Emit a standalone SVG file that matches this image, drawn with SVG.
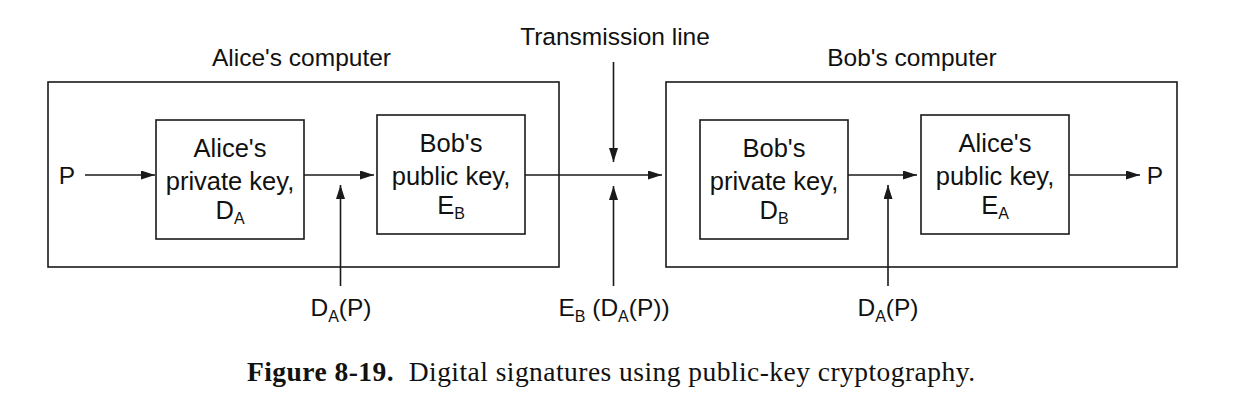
<svg xmlns="http://www.w3.org/2000/svg" width="1244" height="404" viewBox="0 0 1244 404">
<defs>
<marker id="ah" markerUnits="userSpaceOnUse" markerWidth="15" markerHeight="10" refX="14" refY="4.5" orient="auto">
<path d="M0,0 L14,4.5 L0,9 z" fill="#1a1a1a"/>
</marker>
<style>
.box{fill:none;stroke:#1a1a1a;stroke-width:1.6}
.ar{fill:none;stroke:#1a1a1a;stroke-width:1.6;marker-end:url(#ah)}
.t{font-family:"Liberation Sans",Arial,sans-serif;font-size:24.5px;fill:#111;text-anchor:middle}
.b{font-size:25.5px}
.s{font-size:16px}
.cap{font-family:"Liberation Serif","Times New Roman",serif;font-size:27.5px;fill:#111;text-anchor:middle}
</style>
</defs>
<rect width="1244" height="404" fill="#fff"/>

<g id="alice-computer">
<rect class="box" x="48" y="82" width="511" height="185"/>
<text class="t" x="301.5" y="66">Alice's computer</text>
</g>
<g id="alice-private-key">
<rect class="box" x="156" y="120" width="148" height="119"/>
<text class="t b" x="230" y="157">Alice's</text>
<text class="t b" x="230" y="190">private key,</text>
<text class="t b" x="230" y="219">D<tspan class="s" dy="5">A</tspan></text>
</g>
<g id="bob-public-key">
<rect class="box" x="377" y="115" width="148" height="119"/>
<text class="t b" x="451" y="152">Bob's</text>
<text class="t b" x="451" y="185">public key,</text>
<text class="t b" x="451" y="214">E<tspan class="s" dy="5">B</tspan></text>
</g>
<g id="bob-computer">
<rect class="box" x="666" y="82" width="511" height="185"/>
<text class="t" x="912" y="66">Bob's computer</text>
</g>
<g id="bob-private-key">
<rect class="box" x="700" y="120" width="148" height="119"/>
<text class="t b" x="774" y="157">Bob's</text>
<text class="t b" x="774" y="190">private key,</text>
<text class="t b" x="774" y="219">D<tspan class="s" dy="5">B</tspan></text>
</g>
<g id="alice-public-key">
<rect class="box" x="921" y="115" width="148" height="119"/>
<text class="t b" x="995" y="152">Alice's</text>
<text class="t b" x="995" y="185">public key,</text>
<text class="t b" x="995" y="214">E<tspan class="s" dy="5">A</tspan></text>
</g>

<g id="labels">
<text class="t" x="67" y="184">P</text>
<text class="t" x="1155" y="184">P</text>
<text class="t" x="615" y="45">Transmission line</text>
<text class="t" x="341" y="316">D<tspan class="s" dy="6">A</tspan><tspan dy="-6">(P)</tspan></text>
<text class="t" x="614" y="316">E<tspan class="s" dy="6">B</tspan><tspan dy="-6"> (D</tspan><tspan class="s" dy="6">A</tspan><tspan dy="-6">(P))</tspan></text>
<text class="t" x="888" y="316">D<tspan class="s" dy="6">A</tspan><tspan dy="-6">(P)</tspan></text>
</g>

<g id="connectors">
<line class="ar" x1="85" y1="175" x2="155" y2="175"/>
<line class="ar" x1="304" y1="175" x2="374" y2="175"/>
<line class="ar" x1="340.5" y1="286" x2="340.5" y2="185"/>
<line class="ar" x1="525" y1="175" x2="662" y2="175"/>
<line class="ar" x1="613.5" y1="62" x2="613.5" y2="162"/>
<line class="ar" x1="613.5" y1="286" x2="613.5" y2="186"/>
<line class="ar" x1="848" y1="175" x2="917" y2="175"/>
<line class="ar" x1="888" y1="286" x2="888" y2="185"/>
<line class="ar" x1="1069" y1="175" x2="1140" y2="175"/>
</g>

<g id="caption">
<text class="cap" x="611" y="381" textLength="728" lengthAdjust="spacing" xml:space="preserve"><tspan font-weight="bold">Figure 8-19.</tspan>  Digital signatures using public-key cryptography.</text>
</g>
</svg>
